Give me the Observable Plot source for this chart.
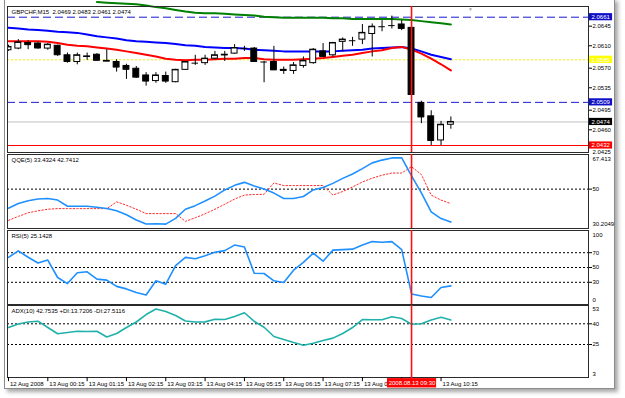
<!DOCTYPE html>
<html><head><meta charset="utf-8">
<script src="https://cdn.jsdelivr.net/npm/d3@7"></script>
<script src="https://cdn.jsdelivr.net/npm/@observablehq/plot@0.6"></script>
<style>
body{margin:0;background:#fff;}
#wrap{position:relative;width:625px;height:398px;overflow:hidden;}
#win{position:absolute;left:4px;top:-2px;width:609px;height:389px;border:1px solid #8c8c8c;background:#fff;box-shadow:3px 3px 4px rgba(0,0,0,0.35);}
</style></head><body><div id="wrap"><div id="win"></div></div>
<script>
// ---------- data ----------
const symbolTitle = "GBPCHF,M15  2.0469 2.0483 2.0461 2.0474";
const opens  = [2.0602,2.0605,2.0615,2.0614,2.0605,2.0610,2.0593,2.0581,2.0590,2.0594,2.0582,2.0581,2.0574,2.0569,2.0557,2.0547,2.0556,2.0545,2.0567,2.0579,2.0579,2.0587,2.0593,2.0596,2.0605,2.0605,2.0581,2.0581,2.0567,2.0565,2.0574,2.0579,2.0600,2.0593,2.0617,2.0619,2.0621,2.0631,2.0644,2.0646,2.0648,2.0642,2.0508,2.0484,2.0441,2.0469];
const highs  = [2.0611,2.0621,2.0619,2.0617,2.0614,2.0611,2.0597,2.0597,2.0597,2.0596,2.0603,2.0585,2.0577,2.0573,2.0562,2.0562,2.0563,2.0568,2.0582,2.0593,2.0593,2.0600,2.0600,2.0612,2.0609,2.0607,2.0582,2.0609,2.0572,2.0580,2.0590,2.0605,2.0614,2.0616,2.0624,2.0625,2.0648,2.0649,2.0655,2.0663,2.0655,2.0643,2.0511,2.0494,2.0475,2.0483];
const lows   = [2.0600,2.0603,2.0603,2.0604,2.0602,2.0591,2.0579,2.0576,2.0584,2.0584,2.0582,2.0563,2.0550,2.0552,2.0538,2.0543,2.0543,2.0544,2.0566,2.0575,2.0575,2.0585,2.0582,2.0595,2.0600,2.0581,2.0544,2.0566,2.0559,2.0559,2.0570,2.0577,2.0590,2.0590,2.0599,2.0609,2.0612,2.0590,2.0635,2.0640,2.0637,2.0523,2.0471,2.0432,2.0432,2.0461];
const closes = [2.0608,2.0616,2.0612,2.0606,2.0612,2.0594,2.0582,2.0593,2.0591,2.0584,2.0583,2.0572,2.0568,2.0554,2.0547,2.0557,2.0547,2.0567,2.0581,2.0579,2.0587,2.0593,2.0594,2.0606,2.0605,2.0582,2.0581,2.0567,2.0566,2.0575,2.0583,2.0603,2.0591,2.0615,2.0621,2.0619,2.0633,2.0644,2.0644,2.0646,2.0641,2.0523,2.0483,2.0441,2.0469,2.0474];

const maGreenStart = 9;
const maGreen = [2.0688,2.0687,2.0686,2.0685,2.0684,2.0682,2.0679,2.0677,2.0674,2.0671,2.0669,2.0668,2.0668,2.0667,2.0666,2.0665,2.0664,2.0662,2.0661,2.0660,2.0660,2.0660,2.0660,2.0660,2.0659,2.0659,2.0658,2.0658,2.0658,2.0658,2.0658,2.0657,2.0656,2.0654,2.0652,2.0650,2.0648];
const maBlue = [2.0642,2.0641,2.0639,2.0638,2.0637,2.0635,2.0634,2.0633,2.0630,2.0627,2.0625,2.0623,2.0620,2.0618,2.0617,2.0616,2.0615,2.0613,2.0611,2.0610,2.0608,2.0607,2.0606,2.0606,2.0605,2.0603,2.0602,2.0601,2.0600,2.0600,2.0600,2.0600,2.0600,2.0600,2.0601,2.0602,2.0603,2.0605,2.0606,2.0607,2.0608,2.0605,2.0600,2.0594,2.0590,2.0586];
const maRed = [2.0618,2.0618,2.0618,2.0618,2.0617,2.0615,2.0612,2.0610,2.0609,2.0607,2.0605,2.0603,2.0600,2.0597,2.0594,2.0591,2.0587,2.0585,2.0584,2.0585,2.0585,2.0586,2.0587,2.0587,2.0588,2.0588,2.0586,2.0585,2.0585,2.0585,2.0586,2.0587,2.0588,2.0590,2.0592,2.0594,2.0597,2.0600,2.0602,2.0606,2.0608,2.0603,2.0596,2.0587,2.0577,2.0566];

const mainTicks = [2.0645,2.0610,2.0570,2.0535,2.0495,2.0460];
const mainLowTick = 2.0425;
const boxPrices = [2.0661,2.0585,2.0509,2.0474,2.0432];
const boxFills  = ["#1010c8","#ffff00","#1010c8","#000000","#ff0000"];
const dashedLevels = [2.0661,2.0509];
const dottedLevel = 2.0585;
const bidLevel = 2.0474;
const lowLevel = 2.0432;

const qqeTitle = "QQE(5) 33.4324 42.7412";
const qqeMain = [40.4,42.8,44.2,45.0,45.3,44.5,41.4,41.4,41.4,40.9,40.3,39.1,37.1,34.5,32.5,32.6,32.4,35.3,39.9,41.7,44.0,46.5,49.6,51.9,53.4,51.6,50.1,48.0,45.3,45.3,46.3,49.6,50.8,52.9,55.4,57.6,60.3,63.2,64.6,65.7,65.7,56.7,48.1,38.6,35.2,33.43];
const qqeSignal = [34.3,36.3,38.1,39.1,39.9,40.2,40.2,40.2,40.2,40.2,40.2,43.6,41.9,39.9,37.7,37.7,37.7,37.7,33.8,35.6,37.6,39.9,42.4,45.0,47.0,47.3,47.4,53.1,51.8,51.8,51.8,51.8,51.8,47.0,48.8,51.1,53.6,55.5,57.0,58.1,58.1,61.3,57.3,47.0,44.5,42.74];
const qqeRange = [30.2049, 67.413];
const qqeLevels = [50];

const rsiTitle = "RSI(5) 25.1428";
const rsi = [63.7,72.4,63.9,56.1,60.1,36.5,28.3,42.9,44.2,34.3,32.9,24.5,21.1,16.3,12.9,32.0,27.5,52.4,63.7,61.9,66.0,70.7,72.8,80.3,77.6,42.2,41.9,32.0,29.7,46.3,56.9,69.4,58.5,73.5,74.1,74.8,80.3,85.0,84.1,85.0,74.1,14.3,11.6,9.5,22.9,25.14];
const rsiRange = [0, 100];
const rsiLevels = [70,50,30];

const adxTitle = "ADX(10) 42.7535 +DI:13.7206 -DI:27.5116";
const adx = [37.3,39.9,41.3,41.9,37.3,32.8,33.7,34.6,34.4,34.6,30.4,33.0,37.3,41.3,46.7,50.7,48.9,46.0,42.0,41.3,41.4,43.3,43.1,45.3,48.0,41.7,37.5,30.8,28.6,26.4,24.4,25.9,27.9,29.6,33.0,37.3,43.1,42.9,42.9,45.1,43.8,39.7,40.0,42.8,44.8,42.75];
const adxRange = [1.09, 53.26];
const adxLevels = [40,25];
const adxEdgeLabels = ["3","53"];

const timeTickIdx = [0,4,8,12,16,20,24,28,32,36,40,44];
const timeLabels = ["12 Aug 2008","13 Aug 00:15","13 Aug 01:15","13 Aug 02:15","13 Aug 03:15","13 Aug 04:15","13 Aug 05:15","13 Aug 06:15","13 Aug 07:15","13 Aug 08","","13 Aug 10:15"];
const cursorIdx = 41;
const cursorLabel = "2008.08.13 09:30";
const shiftIdx = 47;

// ---------- build ----------
const FONT = '"Liberation Sans", Arial, sans-serif';
const candles = opens.map((o, i) => ({i, open: o, high: highs[i], low: lows[i], close: closes[i]}));
const ser = (arr, start = 0) => arr.map((v, k) => ({i: k + start, v}));
const X = {domain: [-0.1, 59.0], axis: null};
const XMAX = 59.0;
const base = (h, mt, mb) => ({
  width: 625, height: h, marginLeft: 7, marginRight: 37, marginTop: mt, marginBottom: mb,
  style: {background: "transparent", overflow: "visible", fontFamily: FONT, fontSize: "6px", color: "black", position: "absolute", left: "0px"}
});
const wrap = document.getElementById("wrap");
function place(svg, top) { svg.style.top = top + "px"; wrap.appendChild(svg); }
const edgeText = (v, s, dy) => Plot.text([v], {x: XMAX, y: d => d, text: () => s, textAnchor: "start", dx: 4, dy, fontSize: 6, fill: "black"});
const levelRules = (lv) => Plot.ruleY(lv, {stroke: "black", strokeDasharray: "2,2"});
const rightAxis = (t, fmt) => Plot.axisY(t, {anchor: "right", tickSize: 3, tickPadding: 1, tickFormat: fmt, fontSize: 6, label: null});
const header = (t) => Plot.text([t], {frameAnchor: "top-left", dx: 4, dy: 3, lineAnchor: "top", textAnchor: "start", fontSize: 6, fill: "black"});
const cursor = () => Plot.ruleX([cursorIdx], {stroke: "#ff1010", strokeWidth: 1.6});
const frame = () => Plot.frame({stroke: "#2a2a2a"});

// main price panel
const boxes = boxPrices.map((v, k) => ({v, fill: boxFills[k]}));
const main = Plot.plot({
  ...base(152, 6, 0),
  x: X, y: {domain: [2.04195, 2.06801], axis: null}, color: {type: "identity"},
  marks: [
    Plot.ruleY(dashedLevels, {stroke: "#1a1ad0", strokeDasharray: "8,4"}),
    Plot.ruleY([dottedLevel], {stroke: "#f0f000", strokeDasharray: "2,2"}),
    Plot.ruleY([bidLevel], {stroke: "#c0c0c0"}),
    Plot.ruleY([lowLevel], {stroke: "#ff0000"}),
    Plot.line(ser(maGreen, maGreenStart), {x: "i", y: "v", stroke: "#008000", strokeWidth: 2}),
    Plot.line(ser(maBlue), {x: "i", y: "v", stroke: "#0000ff", strokeWidth: 2, clip: true}),
    Plot.line(ser(maRed), {x: "i", y: "v", stroke: "#ff0000", strokeWidth: 2, clip: true}),
    Plot.ruleX(candles, {x: "i", y1: "low", y2: "high", stroke: "black", clip: true}),
    Plot.rect(candles, {x1: d => d.i - 0.3, x2: d => d.i + 0.3, y1: "open", y2: "close",
      fill: d => d.close >= d.open ? "#ffffff" : "#000000", stroke: "black", clip: true}),
    Plot.ruleY(candles, {y: "close", x1: d => d.i - 0.33, x2: d => d.i + 0.33, stroke: "black", clip: true}),
    frame(),
    cursor(),
    rightAxis(mainTicks, ".4f"),
    Plot.text([mainLowTick], {x: XMAX, y: d => d, text: d => d.toFixed(4), textAnchor: "start", dx: 4, dy: 2.5, fontSize: 6, fill: "black"}),
    Plot.rect(boxes, {x1: 59.1, x2: 61.45, y1: d => d.v - 0.00064, y2: d => d.v + 0.00064, fill: "fill"}),
    Plot.text(boxes, {x: 59.1, y: "v", text: d => d.v.toFixed(4), textAnchor: "start", dx: 2, fill: "white", fontSize: 6}),
    header(symbolTitle),
    Plot.text([shiftIdx], {x: d => d, frameAnchor: "top", text: () => "▼", dy: 1, lineAnchor: "top", fill: "#a8a8a8", fontSize: 5})
  ]
});
place(main, 0);

// QQE panel
const qqe = Plot.plot({
  ...base(74, 0, 0), x: X, y: {domain: qqeRange, axis: null},
  marks: [
    levelRules(qqeLevels),
    Plot.line(ser(qqeSignal), {x: "i", y: "v", stroke: "#ff2a2a", strokeWidth: 1, strokeDasharray: "1.5,2"}),
    Plot.line(ser(qqeMain), {x: "i", y: "v", stroke: "#1e90ff", strokeWidth: 1.6}),
    frame(), cursor(),
    rightAxis(qqeLevels, d => String(d)),
    edgeText(qqeRange[1], "67.413", 4.5),
    edgeText(qqeRange[0], "30.2049", -4.5),
    header(qqeTitle)
  ]
});
place(qqe, 154);

// RSI panel
const rsiPlot = Plot.plot({
  ...base(74, 0, 0), x: X, y: {domain: rsiRange, axis: null},
  marks: [
    levelRules(rsiLevels),
    Plot.line(ser(rsi), {x: "i", y: "v", stroke: "#1e90ff", strokeWidth: 1.6}),
    frame(), cursor(),
    rightAxis(rsiLevels, d => String(d)),
    edgeText(rsiRange[1], "100", 4.5),
    edgeText(rsiRange[0], "0", -4.5),
    header(rsiTitle)
  ]
});
place(rsiPlot, 229.5);

// ADX panel
const adxPlot = Plot.plot({
  ...base(72, 0, 0), x: X, y: {domain: adxRange, axis: null},
  marks: [
    levelRules(adxLevels),
    Plot.line(ser(adx), {x: "i", y: "v", stroke: "#20b2aa", strokeWidth: 1.6}),
    frame(), cursor(),
    rightAxis(adxLevels, d => String(d)),
    edgeText(adxRange[1], adxEdgeLabels[1], 3.5),
    edgeText(adxRange[0], adxEdgeLabels[0], -3.5),
    header(adxTitle)
  ]
});
place(adxPlot, 305);

// time axis
const timeData = timeTickIdx.map((i, k) => ({i, s: timeLabels[k]}));
const timeAxis = Plot.plot({
  ...base(11, 0, 0), x: X, y: {domain: [0, 1], axis: null},
  marks: [
    Plot.ruleX(timeData, {x: "i", y1: 1, y2: 0.62, stroke: "black"}),
    Plot.text(timeData, {x: "i", y: 0.42, text: "s", textAnchor: "start", dx: 1.5, fontSize: 6, fill: "black"}),
    Plot.rect([cursorIdx], {x1: d => d - 2.45, x2: d => d + 2.55, y1: 0.05, y2: 0.9, fill: "#ff0000"}),
    Plot.text([cursorIdx], {x: d => d + 0.05, y: 0.45, text: () => cursorLabel, fill: "white", fontSize: 6}),
    Plot.ruleX([cursorIdx], {y1: 1, y2: 0.9, stroke: "#ff1010", strokeWidth: 1.6})
  ]
});
place(timeAxis, 377);
</script>
</body></html>
